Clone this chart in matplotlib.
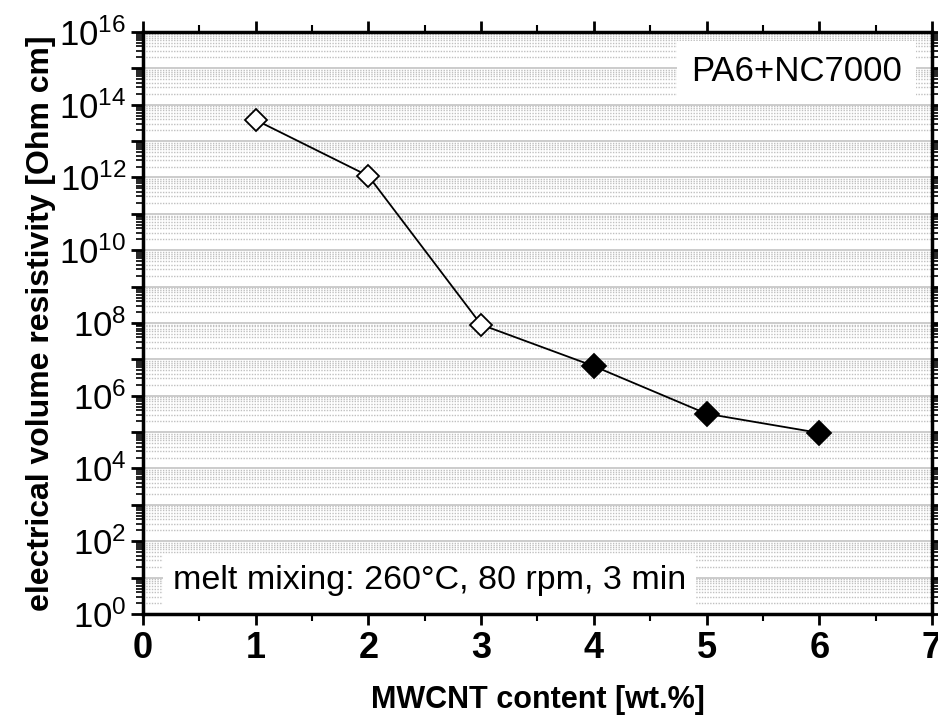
import numpy as np
import matplotlib
matplotlib.use('Agg')
import matplotlib.pyplot as plt
from matplotlib.ticker import LogLocator, FixedLocator, MultipleLocator, NullFormatter

plt.rcParams['font.family'] = ['Liberation Sans', 'DejaVu Sans']
plt.rcParams['mathtext.fontset'] = 'custom'
plt.rcParams['mathtext.rm'] = 'Liberation Sans'
plt.rcParams['mathtext.default'] = 'regular'

# data
content = [1, 2, 3, 4, 5, 6]
resistivity = [3.8e13, 1.1e12, 9.0e7, 6.5e6, 3.2e5, 9.5e4]
open_pts = [0, 1, 2]
filled_pts = [3, 4, 5]

x_ticks = [0, 1, 2, 3, 4, 5, 6, 7]
y_label_exps = [0, 2, 4, 6, 8, 10, 12, 14, 16]

fig = plt.figure(figsize=(9.38, 7.27), dpi=100)
ax = fig.add_axes([0.1525, 0.1555, 0.841, 0.8005])

ax.set_yscale('log')
ax.set_xlim(0, 7)
ax.set_ylim(1e0, 1e16)

# grid: solid at decades, dotted at minors
ax.yaxis.set_major_locator(LogLocator(base=10, numticks=30))
ax.yaxis.set_minor_locator(LogLocator(base=10, subs=np.arange(2, 10), numticks=30))
ax.grid(True, which='major', axis='y', color='#c4c4c4', lw=1.2, zorder=0)
ax.grid(True, which='minor', axis='y', color='#c0c0c0', lw=1.0, ls=(0, (1, 1)), zorder=0)

# y tick labels only every 2nd decade
def ylab(v, pos):
    e = int(round(np.log10(v)))
    return r'$10^{%d}$' % e if e in y_label_exps else ''
ax.yaxis.set_major_formatter(plt.FuncFormatter(ylab))
ax.yaxis.set_minor_formatter(NullFormatter())

ax.xaxis.set_major_locator(FixedLocator(x_ticks))
ax.xaxis.set_minor_locator(MultipleLocator(0.5))

ax.plot(content, resistivity, color='black', lw=1.3, zorder=3)
ax.plot([content[i] for i in open_pts], [resistivity[i] for i in open_pts],
        ls='none', marker='D', ms=11, mfc='white', mec='black', mew=1.3, zorder=4)
ax.plot([content[i] for i in filled_pts], [resistivity[i] for i in filled_pts],
        ls='none', marker='D', ms=12, mfc='black', mec='black', mew=1.3, zorder=4)

for s in ax.spines.values():
    s.set_linewidth(2.5)

ax.tick_params(axis='x', which='major', direction='out', length=8, width=2,
               labelsize=26, pad=4, top=True)
ax.tick_params(axis='x', which='minor', direction='out', length=5, width=1.5, top=True)
ax.tick_params(axis='y', which='major', direction='out', length=9, width=2,
               labelsize=25, pad=3, right=True)
ax.tick_params(axis='y', which='minor', direction='out', length=5, width=1.2, right=True)
for lab in ax.get_xticklabels():
    lab.set_fontweight('bold')

ax.set_xlabel('MWCNT content [wt.%]', fontsize=22, fontweight='bold', labelpad=14)
ax.set_ylabel('electrical volume resistivity [Ohm cm]', fontsize=23, fontweight='bold', labelpad=2)

ax.text(0.962, 0.96, 'PA6+NC7000', transform=ax.transAxes, ha='right', va='top',
        fontsize=25, zorder=5,
        bbox=dict(boxstyle='square,pad=0.4', fc='white', ec='none'))
ax.text(0.038, 0.058, 'melt mixing: 260\u00b0C, 80 rpm, 3 min', transform=ax.transAxes,
        ha='left', va='center', fontsize=24.5, zorder=5,
        bbox=dict(boxstyle='square,pad=0.3', fc='white', ec='none'))

fig.savefig('out.png', dpi=100)
